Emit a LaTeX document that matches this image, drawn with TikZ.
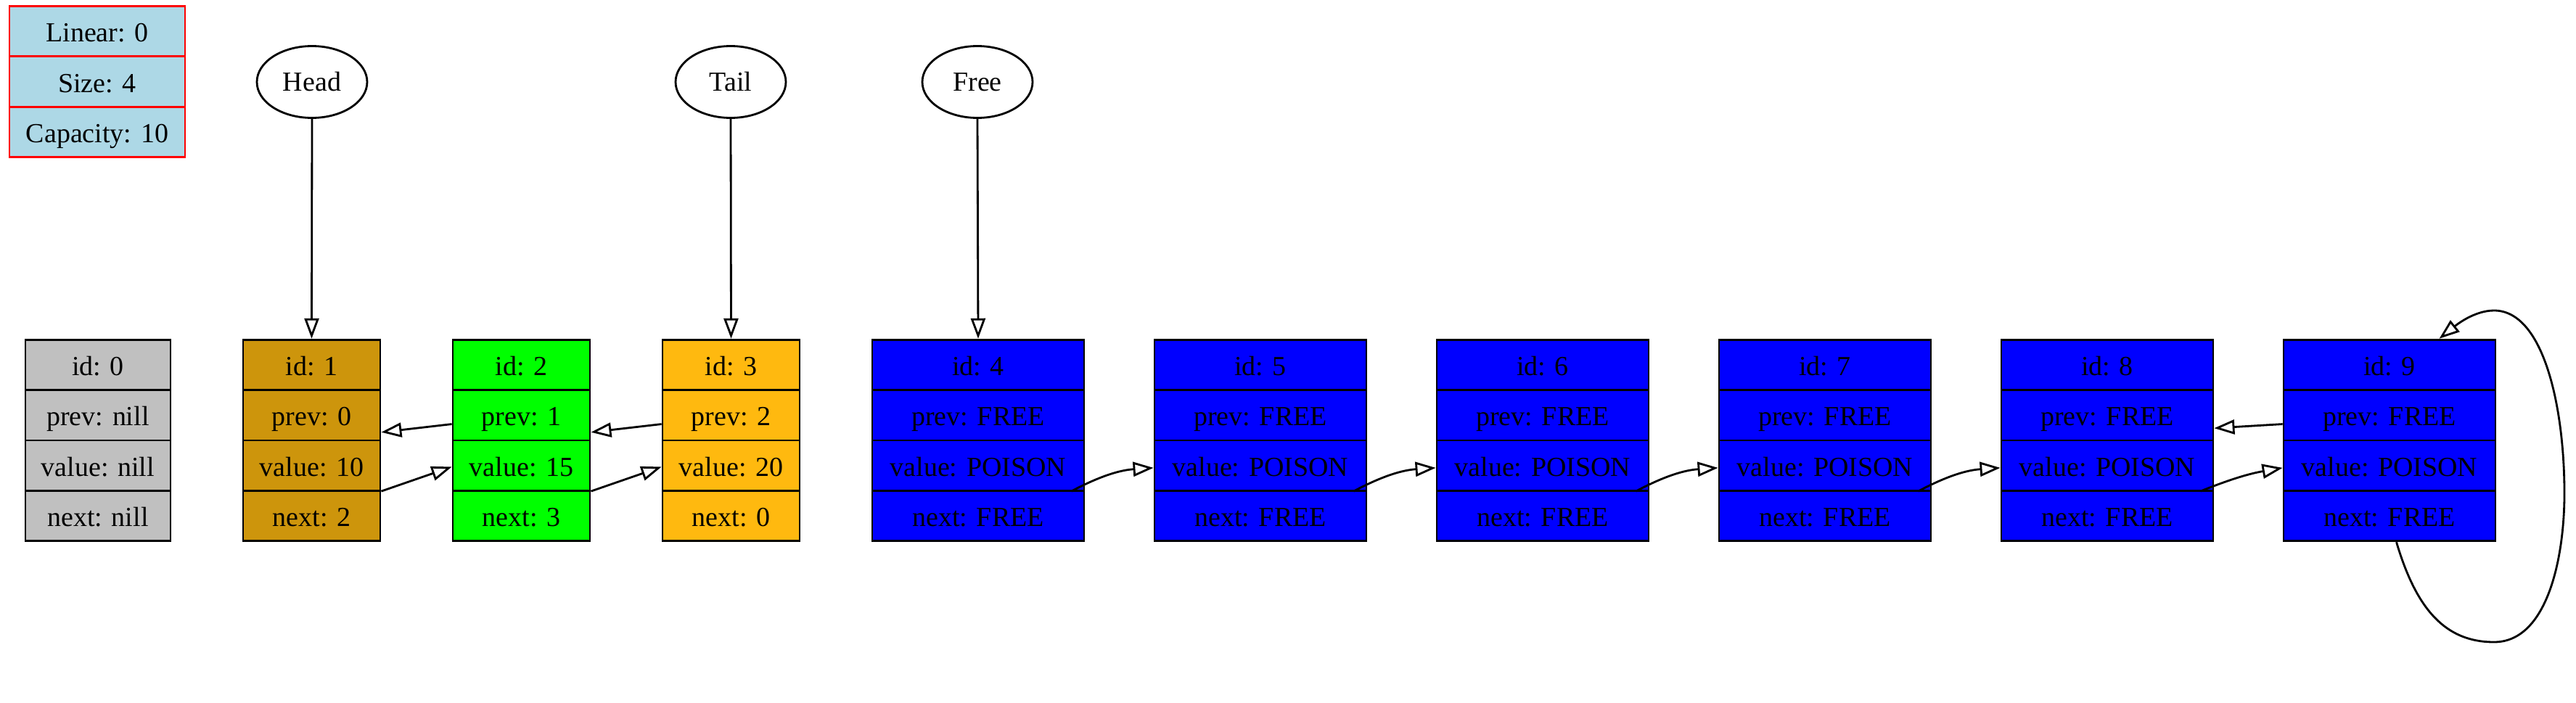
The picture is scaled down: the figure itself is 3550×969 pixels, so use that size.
\documentclass[tikz,border=0pt]{standalone}
\usepackage{fontspec}
\setmainfont{Liberation Serif}
\usetikzlibrary{shapes.multipart,shapes.geometric,arrows.meta,calc}

\definecolor{freeblue}{HTML}{0000FF}
\definecolor{headgold}{HTML}{CD950C}
\definecolor{usedgreen}{HTML}{00FF00}
\definecolor{tailgold}{HTML}{FFB90F}
\definecolor{infoblue}{HTML}{ADD8E6}
\definecolor{nillgray}{HTML}{C0C0C0}

\newcommand{\rowstrut}{\rule[-5.3pt]{0pt}{18.95pt}}

\begin{document}
\begin{tikzpicture}[x=0.1mm, y=-0.1mm,
        every node/.style={font=\fontsize{10.8}{13}\selectfont},
        record/.style={rectangle split, rectangle split parts=4, draw, line width=0.8pt, inner xsep=2pt, inner ysep=0pt},
        freerecord/.style={record, fill=freeblue, minimum width=2.92cm},
        pointer/.style={ellipse, draw, line width=0.8pt, minimum width=1.52cm, minimum height=0.99cm, inner sep=0pt},
        link/.style={-{Triangle[open,length=2.8mm,width=2mm]}, line width=0.8pt}]
        \useasboundingbox (0,0) rectangle (3550,969);

        % list info
        \node[rectangle split, rectangle split parts=3, draw=red, line width=0.8pt, fill=infoblue,
              minimum width=2.42cm, inner ysep=0pt] (info) at (134,112.5)
              {\rowstrut Linear: 0 \nodepart{two}\rowstrut Size: 4 \nodepart{three}\rowstrut Capacity: 10};

        % pointers
        \node[pointer] (head) at (430,113) {Head};
        \node[pointer] (tail) at (1007,113) {Tail};
        \node[pointer] (free) at (1347,113) {Free};

        % elements
        \node[record, fill=nillgray, minimum width=2cm] (n0) at (135,607)
              {\rowstrut id: 0 \nodepart{two}\rowstrut prev: nill \nodepart{three}\rowstrut value: nill \nodepart{four}\rowstrut next: nill};
        \node[record, fill=headgold, minimum width=1.89cm] (n1) at (429.5,607)
              {\rowstrut id: 1 \nodepart{two}\rowstrut prev: 0 \nodepart{three}\rowstrut value: 10 \nodepart{four}\rowstrut next: 2};
        \node[record, fill=usedgreen, minimum width=1.89cm] (n2) at (718.5,607)
              {\rowstrut id: 2 \nodepart{two}\rowstrut prev: 1 \nodepart{three}\rowstrut value: 15 \nodepart{four}\rowstrut next: 3};
        \node[record, fill=tailgold, minimum width=1.89cm] (n3) at (1007.5,607)
              {\rowstrut id: 3 \nodepart{two}\rowstrut prev: 2 \nodepart{three}\rowstrut value: 20 \nodepart{four}\rowstrut next: 0};

        % free elements
        \node[freerecord] (n4) at (1348,607)
              {\rowstrut id: 4 \nodepart{two}\rowstrut prev: FREE \nodepart{three}\rowstrut value: POISON \nodepart{four}\rowstrut next: FREE};
        \node[freerecord] (n5) at (1737,607)
              {\rowstrut id: 5 \nodepart{two}\rowstrut prev: FREE \nodepart{three}\rowstrut value: POISON \nodepart{four}\rowstrut next: FREE};
        \node[freerecord] (n6) at (2126,607)
              {\rowstrut id: 6 \nodepart{two}\rowstrut prev: FREE \nodepart{three}\rowstrut value: POISON \nodepart{four}\rowstrut next: FREE};
        \node[freerecord] (n7) at (2515,607)
              {\rowstrut id: 7 \nodepart{two}\rowstrut prev: FREE \nodepart{three}\rowstrut value: POISON \nodepart{four}\rowstrut next: FREE};
        \node[freerecord] (n8) at (2904,607)
              {\rowstrut id: 8 \nodepart{two}\rowstrut prev: FREE \nodepart{three}\rowstrut value: POISON \nodepart{four}\rowstrut next: FREE};
        \node[freerecord] (n9) at (3293,607)
              {\rowstrut id: 9 \nodepart{two}\rowstrut prev: FREE \nodepart{three}\rowstrut value: POISON \nodepart{four}\rowstrut next: FREE};

        % pointer arrows
        \draw[link] (head.south) -- (n1.north);
        \draw[link] (tail.south) -- (n3.north);
        \draw[link] (free.south) -- (n4.north);

        % next links
        \draw[link] ($(n1.north east)!0.75!(n1.south east)$) -- ($(n2.north west)!0.63!(n2.south west)$);
        \draw[link] ($(n2.north east)!0.75!(n2.south east)$) -- ($(n3.north west)!0.63!(n3.south west)$);
        \draw[link] ($(n4.north east)!0.75!(n4.south east)+(-19,0)$) to[bend left=12] ($(n5.north west)!0.635!(n5.south west)$);
        \draw[link] ($(n5.north east)!0.75!(n5.south east)+(-19,0)$) to[bend left=12] ($(n6.north west)!0.635!(n6.south west)$);
        \draw[link] ($(n6.north east)!0.75!(n6.south east)+(-19,0)$) to[bend left=12] ($(n7.north west)!0.635!(n7.south west)$);
        \draw[link] ($(n7.north east)!0.75!(n7.south east)+(-19,0)$) to[bend left=12] ($(n8.north west)!0.635!(n8.south west)$);
        \draw[link] ($(n8.north east)!0.75!(n8.south east)+(-19,0)$) to[bend left=6] ($(n9.north west)!0.635!(n9.south west)$);

        % prev links
        \draw[link] ($(n2.north west)!0.42!(n2.south west)$) -- ($(n1.north east)!0.46!(n1.south east)$);
        \draw[link] ($(n3.north west)!0.42!(n3.south west)$) -- ($(n2.north east)!0.46!(n2.south east)$);
        \draw[link] ($(n9.north west)!0.42!(n9.south west)$) -- ($(n8.north east)!0.44!(n8.south east)$);

        % loop on last free element
        \draw[link] ($(n9.south)+(9.5,0)$) .. controls (3330,840) and (3370,885) .. (3437,885)
              .. controls (3510,885) and (3534,770) .. (3534,680)
              .. controls (3534,560) and (3505,428) .. (3437,428)
              .. controls (3410,428) and (3385,448) .. ($(n9.north)+(68.5,0)$);
    \end{tikzpicture}
\end{document}
